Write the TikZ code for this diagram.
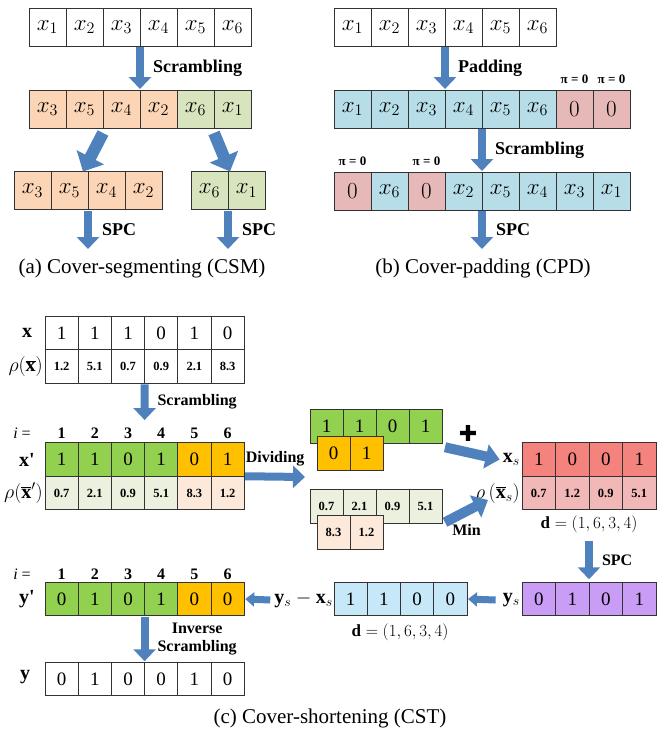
\RequirePackage{fix-cm}
\documentclass[tikz,border=0pt]{standalone}
\usepackage{fontspec}
\setmainfont{Liberation Serif}
\newfontfamily\dejavu{DejaVu Sans}
\usetikzlibrary{arrows.meta, positioning}

\definecolor{peach}{HTML}{FBD5B5}
\definecolor{sage}{HTML}{D7E4BD}
\definecolor{cyanbox}{HTML}{B7DEE8}
\definecolor{rosebox}{HTML}{E6B9B8}
\definecolor{arrowblue}{HTML}{4F81BD}
\definecolor{leaf}{HTML}{92D050}
\definecolor{amber}{HTML}{FFC000}
\definecolor{paleleaf}{HTML}{EBF1DE}
\definecolor{palepeach}{HTML}{FDE9D9}
\definecolor{salmon}{HTML}{F4837D}
\definecolor{palesalmon}{HTML}{F2B8B8}
\definecolor{skybox}{HTML}{C6E8F8}
\definecolor{lilac}{HTML}{C99DF5}

\tikzset{
  cell/.style={draw=black!80, line width=0.9pt, inner sep=0pt, outer sep=0pt},
  acell/.style={cell, minimum width=37pt, minimum height=38pt, font=\fontsize{23}{25}\selectfont},
  ccell/.style={cell, minimum width=33.2pt, minimum height=33.5pt, font=\fontsize{19}{22}\selectfont},
  tinynum/.style={font=\fontsize{12.5}{14}\selectfont\bfseries},
  lbl/.style={font=\fontsize{18}{20}\selectfont\bfseries, inner sep=0pt},
  clbl/.style={font=\fontsize{16}{18}\selectfont\bfseries, inner sep=0pt},
  pilbl/.style={font=\fontsize{13}{15}\selectfont\bfseries, inner sep=0pt},
  mlbl/.style={font=\fontsize{20}{22}\selectfont, inner sep=1pt},
  dlbl/.style={font=\fontsize{17}{20}\selectfont, inner sep=0pt},
  idx/.style={font=\fontsize{16}{18}\selectfont\bfseries, inner sep=0pt},
  captxt/.style={font=\fontsize{21}{24}\selectfont, inner sep=0pt},
  bigarrow/.style={draw=arrowblue, line width=8pt, -{Triangle[width=22pt,length=12pt]}},
  fatarrow/.style={draw=arrowblue, line width=12pt, -{Triangle[width=30pt,length=16pt]}},
  midarrow/.style={draw=arrowblue, line width=10pt, -{Triangle[width=24pt,length=14pt]}},
  smallarrow/.style={draw=arrowblue, line width=7pt, -{Triangle[width=14pt,length=9pt]}}
}

\begin{document}
\begin{tikzpicture}[x=1pt, y=-1pt]
\useasboundingbox (0,0) rectangle (662,732);

% (a) cover-segmenting
\foreach \k in {1,...,6}
  \node[acell] (a0-\k) at ({29+37*(\k-0.5)},27) {$x_{\k}$};
\foreach \t/\f [count=\k] in {3/peach,5/peach,4/peach,2/peach,6/sage,1/sage}
  \node[acell, fill=\f] (a1-\k) at ({29+37*(\k-0.5)},109) {$x_{\t}$};
\foreach \t [count=\k] in {3,5,4,2}
  \node[acell, fill=peach] (a2-\k) at ({14+37*(\k-0.5)},190.5) {$x_{\t}$};
\foreach \t [count=\k] in {6,1}
  \node[acell, fill=sage] (a3-\k) at ({191+37*(\k-0.5)},190.5) {$x_{\t}$};
\coordinate (a2-out) at (88,249);
\coordinate (a3-out) at (228,249);

\draw[bigarrow] ([yshift=-1pt]a0-3.south east) -- ([yshift=1pt]a1-3.north east)
  node[lbl, midway, right=9pt] {Scrambling};
\draw[fatarrow] ([yshift=-5pt]a1-2.south east) -- ([xshift=-5pt]a2-2.north east);
\draw[fatarrow] ([yshift=-5pt]a1-5.south east) -- ([xshift=2pt]a3-1.north east);
\draw[bigarrow] ([yshift=-1pt]a2-2.south east) -- (a2-out)
  node[lbl, midway, right=10pt] {SPC};
\draw[bigarrow] ([yshift=-1pt]a3-1.south east) -- (a3-out)
  node[lbl, midway, right=10pt] {SPC};
\node[captxt] (capa) at (142,268) {(a) Cover-segmenting (CSM)};

% (b) cover-padding
\foreach \k in {1,...,6}
  \node[acell] (b0-\k) at ({334+37*(\k-0.5)},27) {$x_{\k}$};
\foreach \t/\f [count=\k] in {{$x_1$}/cyanbox,{$x_2$}/cyanbox,{$x_3$}/cyanbox,{$x_4$}/cyanbox,{$x_5$}/cyanbox,{$x_6$}/cyanbox,{$0$}/rosebox,{$0$}/rosebox}
  \node[acell, fill=\f] (b1-\k) at ({334+37*(\k-0.5)},109) {\t};
\foreach \t/\f [count=\k] in {{$0$}/rosebox,{$x_6$}/cyanbox,{$0$}/rosebox,{$x_2$}/cyanbox,{$x_5$}/cyanbox,{$x_4$}/cyanbox,{$x_3$}/cyanbox,{$x_1$}/cyanbox}
  \node[acell, fill=\f] (b2-\k) at ({334+37*(\k-0.5)},191) {\t};
\node[pilbl, above=6pt of b1-7] (pi1) {π = 0};
\node[pilbl, above=6pt of b1-8] (pi2) {π = 0};
\node[pilbl, above=6pt of b2-1] (pi3) {π = 0};
\node[pilbl, above=6pt of b2-3] (pi4) {π = 0};
\coordinate (b2-out) at (482,249);

\draw[bigarrow] ([yshift=-1pt]b0-3.south east) -- ([yshift=1pt]b1-3.north east)
  node[lbl, midway, right=9pt] {Padding};
\draw[bigarrow] ([yshift=-1pt]b1-4.south east) -- ([yshift=1pt]b2-4.north east)
  node[lbl, midway, right=9pt] {Scrambling};
\draw[bigarrow] ([yshift=-1pt]b2-4.south east) -- (b2-out)
  node[lbl, midway, right=10pt] {SPC};
\node[captxt] (capb) at (483,268) {(b) Cover-padding (CPD)};

% (c) cover-shortening
\foreach \t [count=\k] in {1,1,1,0,1,0}
  \node[ccell] (c0-\k) at ({45+33.2*(\k-0.5)},333) {\t};
\foreach \t [count=\k] in {1.2,5.1,0.7,0.9,2.1,8.3}
  \node[ccell, tinynum] (c1-\k) at ({45+33.2*(\k-0.5)},366.5) {\t};
\node[mlbl] (lx) at (27,333) {$\mathbf{x}$};
\node[mlbl, anchor=east] (lrx) at (44,366.5) {$\rho(\overline{\mathbf{x}})$};

\foreach \k in {1,...,6}
  \node[idx] (i1-\k) at ({45+33.2*(\k-0.5)},433) {\k};
\node[font=\fontsize{16}{18}\selectfont] (i1) at (22,433) {\textit{i} =};
\foreach \t/\f [count=\k] in {1/leaf,1/leaf,0/leaf,1/leaf,0/amber,1/amber}
  \node[ccell, fill=\f] (xp0-\k) at ({45+33.2*(\k-0.5)},459.5) {\t};
\foreach \t/\f [count=\k] in {0.7/paleleaf,2.1/paleleaf,0.9/paleleaf,5.1/paleleaf,8.3/palepeach,1.2/palepeach}
  \node[ccell, tinynum, fill=\f] (xp1-\k) at ({45+33.2*(\k-0.5)},493) {\t};
\node[mlbl] (lxp) at (27,459.5) {\textbf{x\textquotesingle}};
\node[mlbl, anchor=east] (lrxp) at (44,493) {$\rho(\overline{\mathbf{x}}')$};

\coordinate (scr-end) at (144.6,420);
\draw[bigarrow] ([yshift=-1pt]c1-3.south east) -- (scr-end)
  node[clbl, midway, right=9pt] {Scrambling};
\coordinate (div) at (305,477);
\draw[bigarrow] ([xshift=1pt]xp0-6.south east) -- (div)
  node[clbl, midway, above=7pt] {Dividing};

\foreach \t [count=\k] in {1,1,0,1}
  \node[ccell, minimum width=33pt, fill=leaf] (g-\k) at ({310+33*(\k-0.5)},426.5) {\t};
\foreach \t [count=\k] in {0,1}
  \node[ccell, minimum width=33pt, fill=amber] (o-\k) at ({317+33*(\k-0.5)},453.5) {\t};
\foreach \t [count=\k] in {0.7,2.1,0.9,5.1}
  \node[ccell, tinynum, minimum width=33pt, fill=paleleaf] (lg-\k) at ({310+33*(\k-0.5)},506.5) {\t};
\foreach \t [count=\k] in {8.3,1.2}
  \node[ccell, tinynum, minimum width=33pt, fill=palepeach] (lp-\k) at ({317+33*(\k-0.5)},532.5) {\t};
\node[font=\dejavu\fontsize{22}{24}\selectfont, inner sep=0pt] (plus) at (468,433) {✚};

\foreach \t [count=\k] in {1,0,0,1}
  \node[ccell, minimum width=33.5pt, fill=salmon] (r0-\k) at ({522+33.5*(\k-0.5)},459.5) {\t};
\foreach \t [count=\k] in {0.7,1.2,0.9,5.1}
  \node[ccell, tinynum, minimum width=33.5pt, fill=palesalmon] (r1-\k) at ({522+33.5*(\k-0.5)},493) {\t};
\node[mlbl, anchor=east] (lxs) at (521,459.5) {$\mathbf{x}_s$};
\node[mlbl, anchor=east] (lrxs) at (521,493) {$\rho\left(\overline{\mathbf{x}}_s\right)$};
\node[dlbl] (d1) at (589,524) {$\mathbf{d}=(1,6,3,4)$};
\coordinate (minend) at (488,500);
\draw[midarrow] ([shift={(3pt,-4pt)}]g-4.south east) -- ([xshift=-2pt]lxs.west);
\draw[midarrow] ([shift={(3pt,1pt)}]lg-4.south east) -- (minend)
  node[clbl, pos=0.5, below=8pt] {Min};

\coordinate (spc-top) at (589,541);
\foreach \t [count=\k] in {0,1,0,1}
  \node[ccell, minimum width=33.5pt, fill=lilac] (p-\k) at ({522+33.5*(\k-0.5)},599) {\t};
\draw[bigarrow] (spc-top) -- ([yshift=3pt]p-2.north east)
  node[clbl, midway, right=9pt] {SPC};
\node[mlbl, anchor=east] (lys) at (521,600) {$\mathbf{y}_s$};

\foreach \t [count=\k] in {1,1,0,0}
  \node[ccell, minimum width=33.25pt, fill=skybox] (s-\k) at ({334+33.25*(\k-0.5)},599) {\t};
\node[dlbl] (d2) at (400,632) {$\mathbf{d}=(1,6,3,4)$};
\draw[smallarrow] ([xshift=-6pt]lys.west) -- ([xshift=1pt]s-4.east);
\node[mlbl, anchor=east] (lysxs) at (334,600) {$\mathbf{y}_s-\mathbf{x}_s$};

\foreach \k in {1,...,6}
  \node[idx] (i2-\k) at ({45+33.2*(\k-0.5)},574) {\k};
\node[font=\fontsize{16}{18}\selectfont] (i2) at (22,574) {\textit{i} =};
\foreach \t/\f [count=\k] in {0/leaf,1/leaf,0/leaf,1/leaf,0/amber,0/amber}
  \node[ccell, fill=\f] (yp-\k) at ({45+33.2*(\k-0.5)},599) {\t};
\node[mlbl] (lyp) at (27,599) {\textbf{y\textquotesingle}};
\draw[smallarrow] ([xshift=-3pt]lysxs.west) -- ([xshift=1pt]yp-6.east);

\foreach \t [count=\k] in {0,1,0,0,1,0}
  \node[ccell] (yy-\k) at ({45+33.2*(\k-0.5)},679) {\t};
\node[mlbl] (ly) at (25,677) {$\mathbf{y}$};
\draw[bigarrow] ([yshift=-1pt]yp-3.south east) -- ([yshift=1pt]yy-3.north east)
  node[clbl, midway, right=9pt, align=center] {Inverse\\Scrambling};
\node[captxt] (capc) at (330,718) {(c) Cover-shortening (CST)};
\end{tikzpicture}
\end{document}
